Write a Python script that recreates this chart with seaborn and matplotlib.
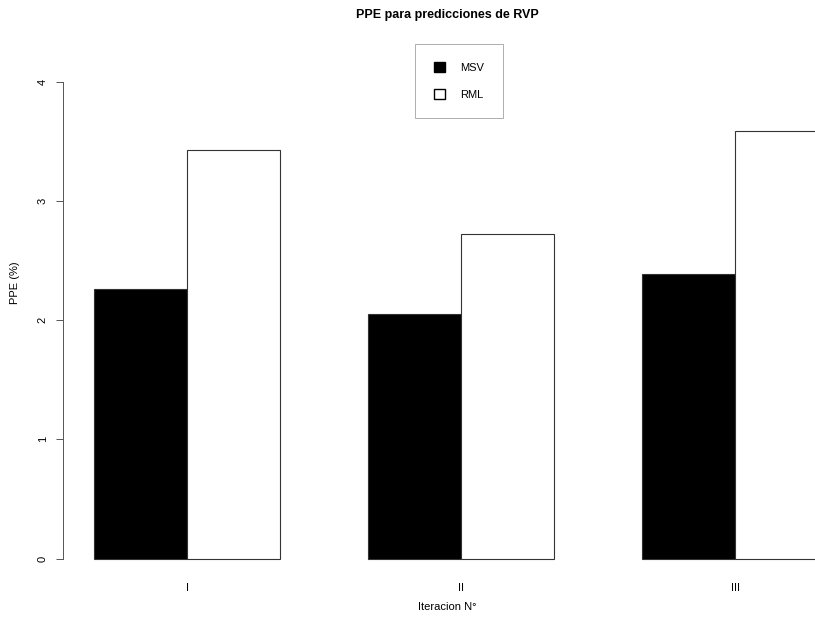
import matplotlib
matplotlib.use("Agg")
import matplotlib.pyplot as plt
import seaborn as sns
import pandas as pd
from matplotlib.patches import Patch

iterations = ["I", "II", "III"]
models = ["MSV", "RML"]
msv_values = [2.26, 2.05, 2.39]
rml_values = [3.43, 2.72, 3.59]
y_ticks = [0, 1, 2, 3, 4]

sns.set_style("white")
plt.rcParams['font.family'] = ['Liberation Sans', 'DejaVu Sans']
plt.rcParams['text.color'] = 'black'
plt.rcParams['axes.labelcolor'] = 'black'
plt.rcParams['xtick.color'] = 'black'
plt.rcParams['ytick.color'] = 'black'

df = pd.DataFrame({
    "Iteracion": iterations * 2,
    "Modelo": [models[0]] * 3 + [models[1]] * 3,
    "PPE": msv_values + rml_values,
})

fig = plt.figure(figsize=(8.15, 6.18), dpi=100)
ax = fig.add_axes([63 / 815, 57 / 618, 768 / 815, 501 / 618])

sns.barplot(data=df, x="Iteracion", y="PPE", hue="Modelo", order=iterations,
            hue_order=models, palette=["black", "white"], width=0.68,
            edgecolor="#333333", linewidth=0.8, saturation=1, ax=ax, legend=False)

y0 = -0.02
ax.set_xlim(-0.4526, 2.35)
ax.set_ylim(y0, y0 + 4 * 501 / 477)
ax.set_yticks(y_ticks)
ax.set_yticklabels([str(t) for t in y_ticks], rotation=90, va="center", fontsize=8)
ax.tick_params(axis="y", left=True, length=5, width=0.7, pad=6, color="#555555")
ax.tick_params(axis="x", bottom=False, length=0, pad=16, labelsize=8)

for s in ["top", "right", "bottom"]:
    ax.spines[s].set_visible(False)
ax.spines["left"].set_bounds(0, 4)
ax.spines["left"].set_linewidth(0.7)
ax.spines["left"].set_color("#555555")

ax.set_xlabel("Iteracion N°", fontsize=8)
ax.xaxis.set_label_coords((447 - 63) / 768, (561 - 602) / 501)
ax.set_ylabel("PPE (%)", fontsize=8)
ax.yaxis.set_label_coords((20 - 63) / 768, (561 - 283) / 501)

fig.text(447 / 815, 1 - 15 / 618, "PPE para predicciones de RVP", ha="center",
         va="center", fontsize=9, fontweight="bold")

handles = [Patch(facecolor="black", edgecolor="black", label=models[0]),
           Patch(facecolor="white", edgecolor="black", label=models[1])]
leg = fig.legend(handles=handles, loc="center", bbox_to_anchor=(459 / 815, 1 - 81 / 618),
                 fontsize=8, frameon=True, fancybox=False, borderpad=1.7,
                 handlelength=1.0, handleheight=1.0, labelspacing=1.4, handletextpad=1.4,
                 borderaxespad=0)
leg.get_frame().set_edgecolor("#999999")
leg.get_frame().set_linewidth(0.7)

fig.savefig("out.png", dpi=100)
